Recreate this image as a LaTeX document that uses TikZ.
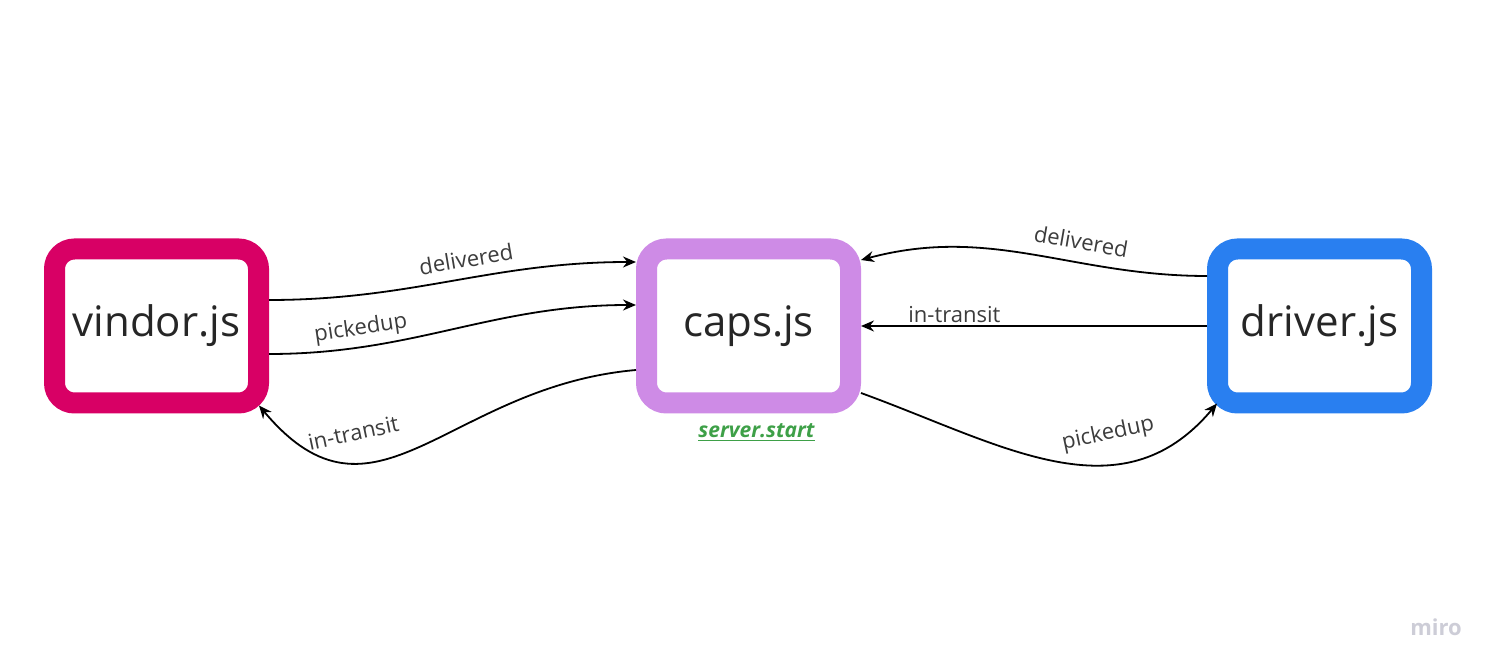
\documentclass[tikz,border=0pt]{standalone}
\usepackage{fontspec}
\setmainfont{Open Sans}
\usepackage{tikz}
\usetikzlibrary{arrows.meta, positioning}
\definecolor{vindorpink}{RGB}{216,0,101}
\definecolor{capslilac}{RGB}{206,139,230}
\definecolor{driverblue}{RGB}{41,127,240}
\definecolor{startgreen}{RGB}{62,160,72}
\definecolor{textgray}{RGB}{38,38,38}
\definecolor{mirogray}{RGB}{205,205,215}

\begin{document}
\begin{tikzpicture}[x=0.5pt, y=0.5pt,
		jsbox/.style={draw, line width=10.5pt, rounded corners=10pt, fill=white, minimum width=102pt, minimum height=77pt, text=textgray, font=\fontsize{21}{25}\selectfont},
		msg/.style={-{Stealth[length=6.5pt, width=5.5pt]}, line width=0.9pt},
		lbl/.style={inner sep=1pt, text=textgray!90, font=\fontsize{11}{13}\selectfont}]
		\useasboundingbox (0,0) rectangle (1494,669);
		% modules
		\node [jsbox, draw=vindorpink] (vindor) at (156.5,343) {vindor.js};
		\node [jsbox, draw=capslilac, right=183.5pt of vindor] (caps) {caps.js};
		\node [jsbox, draw=driverblue, right=173pt of caps] (driver) {driver.js};
		\node [below=1.5pt of caps, xshift=4pt, text=startgreen, font=\fontsize{10.5}{12}\selectfont\bfseries\itshape] (start) {\underline{server.start}};
		% vindor <-> caps
		\draw[msg] ([yshift=13pt]vindor.east) to [out=0, in=180] node (vdel) [lbl, pos=.55, sloped, above=4pt] {delivered} ([yshift=32pt]caps.west);
		\draw[msg] ([yshift=-14pt]vindor.east) to [out=0, in=180] node (vpick) [lbl, pos=.24, sloped, above=2pt] {pickedup} ([yshift=10.5pt]caps.west);
		\draw[msg] ([yshift=-22pt]caps.west) to [out=185, in=-50, out distance=95pt, in distance=90pt] node (vtrans) [lbl, pos=.7, above=9pt, rotate=12] {in-transit} ([shift={(-5pt,4pt)}]vindor.south east);
		% driver <-> caps
		\draw[msg] ([yshift=25pt]driver.west) to [out=180, in=15] node (ddel) [lbl, pos=.36, sloped, above=5pt] {delivered} ([yshift=33pt]caps.east);
		\draw[msg] (driver.west) -- node (dtrans) [lbl, pos=.73, above] {in-transit} (caps.east);
		\draw[msg] ([yshift=-33.5pt]caps.east) to [out=-20, in=-130, out distance=75pt, in distance=75pt] node (dpick) [lbl, pos=.66, above=8pt, rotate=12] {pickedup} ([shift={(5pt,5pt)}]driver.south west);
		% watermark
		\node [text=mirogray, font=\fontsize{11}{13}\selectfont\bfseries] (miro) at (1436,42) {miro};
	\end{tikzpicture}
\end{document}
